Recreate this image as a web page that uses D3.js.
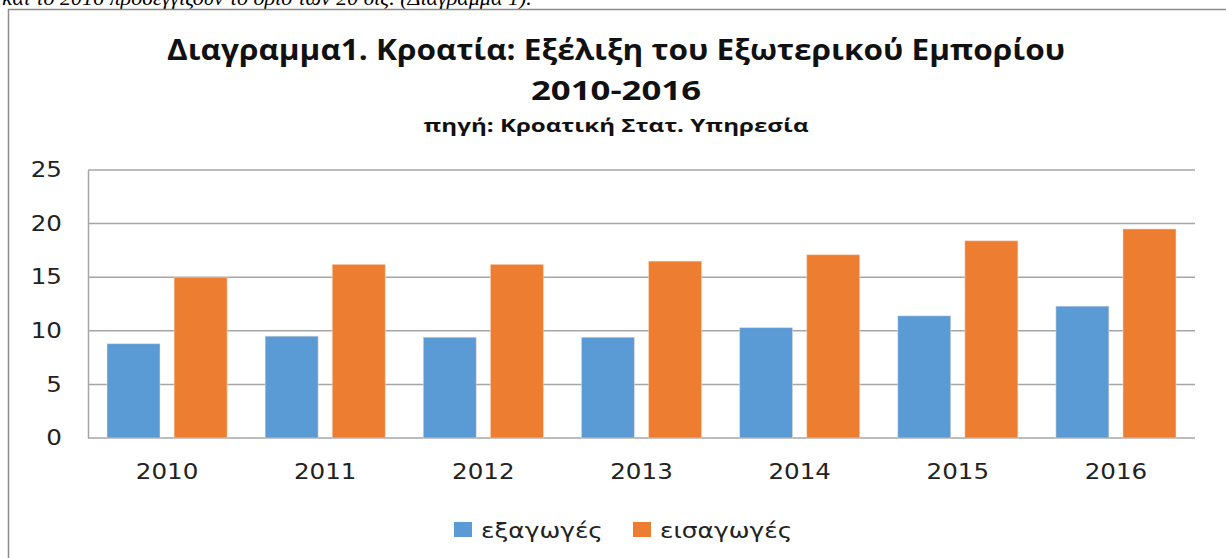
<!DOCTYPE html>
<html>
<head>
<meta charset="utf-8">
<script src="https://cdn.jsdelivr.net/npm/d3@7"></script>
<style>
  body { margin: 0; background: #fff; }
</style>
</head>
<body>
<div id="chart"></div>
<script>
const years = ["2010", "2011", "2012", "2013", "2014", "2015", "2016"];
const exportsData = [8.8, 9.5, 9.4, 9.4, 10.3, 11.4, 12.3];
const importsData = [15.0, 16.2, 16.2, 16.5, 17.1, 18.4, 19.5];
const seriesNames = ["εξαγωγές", "εισαγωγές"];
const yTicks = [0, 5, 10, 15, 20, 25];

const colors = { "εξαγωγές": "#5B9BD5", "εισαγωγές": "#ED7D31" };

const W = 1226, H = 558;
const plot = { left: 88, right: 1195, top: 170, bottom: 438 };
// the source picture is stretched sideways, so glyphs are widened a bit
const stretch = 1.17;

const svg = d3.select("#chart").append("svg")
    .attr("width", W)
    .attr("height", H);

// clipped line of the surrounding document text
svg.append("text")
    .attr("x", 2)
    .attr("y", 5)
    .attr("font-family", "Liberation Serif")
    .attr("font-style", "italic")
    .attr("font-size", 22)
    .attr("fill", "#000")
    .text("και το 2016 προσεγγίζουν το όριο των 20 δις. (Διάγραμμα 1).");

// chart frame
svg.append("path")
    .attr("d", `M8.5,${H} V9.5 H${W}`)
    .attr("fill", "none")
    .attr("stroke", "#8c8c8c")
    .attr("stroke-width", 1.5);

// titles
const titleFont = "'Open Sans', 'Noto Sans', sans-serif";
const titles = [
    { text: "Διαγραμμα1. Κροατία: Εξέλιξη του Εξωτερικού Εμπορίου", y: 60, size: 28, len: 898 },
    { text: "2010-2016", y: 100, size: 27, len: 170 },
    { text: "πηγή: Κροατική  Στατ. Υπηρεσία", y: 132, size: 18, len: 385 }
];
svg.append("g")
    .selectAll("text")
    .data(titles)
    .join("text")
    .attr("x", 616)
    .attr("y", d => d.y)
    .attr("text-anchor", "middle")
    .attr("font-family", titleFont)
    .attr("font-weight", "bold")
    .attr("font-size", d => d.size)
    .attr("textLength", d => d.len)
    .attr("lengthAdjust", "spacingAndGlyphs")
    .attr("fill", "#111")
    .text(d => d.text);

// scales
const x = d3.scaleBand()
    .domain(years)
    .range([plot.left, plot.right])
    .paddingInner(0)
    .paddingOuter(0);

const xSub = d3.scaleBand()
    .domain(seriesNames)
    .range([19, x.bandwidth() - 19])
    .paddingInner(0.21);

const y = d3.scaleLinear()
    .domain([0, 25])
    .range([plot.bottom, plot.top]);

// gridlines
svg.append("g")
    .selectAll("line")
    .data(yTicks)
    .join("line")
    .attr("x1", plot.left)
    .attr("x2", plot.right)
    .attr("y1", d => y(d))
    .attr("y2", d => y(d))
    .attr("stroke", "#a6a6a6")
    .attr("stroke-width", 1.5);

function widen(sel, size, factor) {
    sel.attr("font-family", "DejaVu Sans")
        .attr("font-size", size)
        .attr("fill", "#222")
        .attr("textLength", function () { return this.getComputedTextLength() * factor; })
        .attr("lengthAdjust", "spacingAndGlyphs");
}

// y axis
const yAxis = svg.append("g")
    .attr("transform", `translate(${plot.left},0)`)
    .call(d3.axisLeft(y).tickValues(yTicks).tickSize(0).tickPadding(26));
yAxis.select(".domain").attr("stroke", "#a6a6a6").attr("stroke-width", 1.5);
yAxis.selectAll("text").call(widen, 21, stretch);

// bars
const rows = years.map((yr, i) => ({ year: yr, values: [
    { key: seriesNames[0], value: exportsData[i] },
    { key: seriesNames[1], value: importsData[i] }
]}));

svg.append("g")
    .selectAll("g")
    .data(rows)
    .join("g")
    .attr("transform", d => `translate(${x(d.year)},0)`)
    .selectAll("rect")
    .data(d => d.values)
    .join("rect")
    .attr("x", d => xSub(d.key))
    .attr("width", xSub.bandwidth())
    .attr("y", d => y(d.value))
    .attr("height", d => y(0) - y(d.value))
    .attr("fill", d => colors[d.key])
    .attr("stroke", "#fbe3d4")
    .attr("stroke-opacity", 0.5)
    .attr("stroke-width", 1);

// x axis
const xAxis = svg.append("g")
    .attr("transform", `translate(0,${plot.bottom})`)
    .call(d3.axisBottom(x).tickSize(0).tickPadding(26));
xAxis.select(".domain").remove();
xAxis.selectAll("text").call(widen, 21, stretch);

// legend
const legendX = [454, 633];
const legend = svg.append("g")
    .selectAll("g")
    .data(seriesNames)
    .join("g")
    .attr("transform", (d, i) => `translate(${legendX[i]},522)`);
legend.append("rect")
    .attr("width", 18)
    .attr("height", 15)
    .attr("fill", d => colors[d]);
legend.append("text")
    .attr("x", 27)
    .attr("y", 16)
    .text(d => d)
    .call(widen, 22, 1.13);
</script>
</body>
</html>
